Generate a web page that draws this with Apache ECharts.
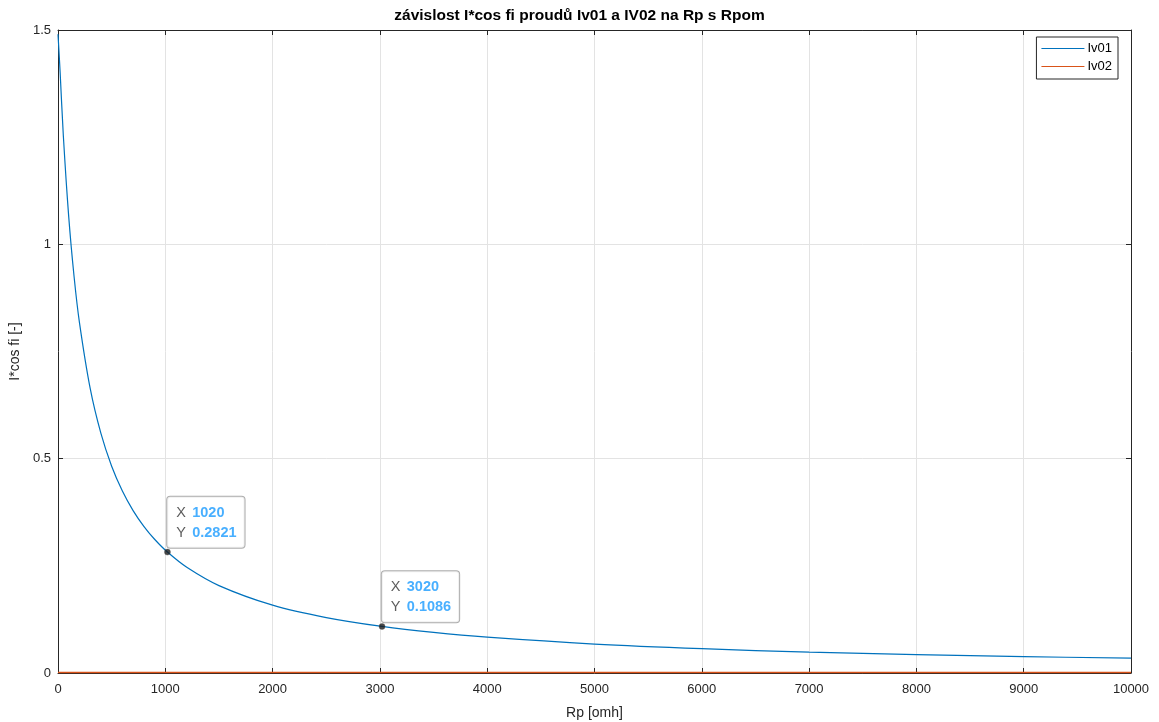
<!DOCTYPE html>
<html>
<head>
<meta charset="utf-8">
<script src="https://cdn.jsdelivr.net/npm/echarts@6/dist/echarts.min.js"></script>
<style>html,body{margin:0;padding:0;background:#fff}#c{width:1159px;height:722px}</style>
</head>
<body>
<div id="c"></div>
<script>
const rpValues = [0, 20, 50, 100, 150, 200, 300, 400, 500, 600, 700, 800, 900, 1020, 1200, 1500, 2000, 2500, 3020, 3500, 4000, 5000, 6000, 7000, 8000, 9000, 10000];
const iv01Values = [1.49, 1.401, 1.252, 1.064, 0.9245, 0.8175, 0.6638, 0.5588, 0.4824, 0.4245, 0.3789, 0.3422, 0.312, 0.2821, 0.2466, 0.2039, 0.1582, 0.1293, 0.1086, 0.0946, 0.0835, 0.0675, 0.0567, 0.0488, 0.0429, 0.0383, 0.0345];
const iv02Values = [0.001, 0.001, 0.001, 0.001, 0.001, 0.001, 0.001, 0.001, 0.001, 0.001, 0.001, 0.001, 0.001, 0.001, 0.001, 0.001, 0.001, 0.001, 0.001, 0.001, 0.001, 0.001, 0.001, 0.001, 0.001, 0.001, 0.001];
const dataTips = [[1020, 0.2821], [3020, 0.1086]];
const xTicks = [0, 1000, 2000, 3000, 4000, 5000, 6000, 7000, 8000, 9000, 10000];
const yTicks = [0, 0.5, 1, 1.5];

const FONT = 'Liberation Sans, Arial, sans-serif';
const chart = echarts.init(document.getElementById('c'), null, {renderer: 'canvas'});
function axisLine() { return {show: true, onZero: false, lineStyle: {color: '#262626', width: 1}}; }
function axisTick() { return {show: true, inside: true, length: 5, lineStyle: {color: '#262626', width: 1}}; }
chart.setOption({
  animation: false,
  backgroundColor: '#fff',
  title: {
    text: 'závislost I*cos fi proudů Iv01 a IV02 na Rp s Rpom',
    left: 'center', top: 3,
    textStyle: {fontFamily: FONT, fontSize: 15.5, fontWeight: 'bold', color: '#000'}
  },
  legend: {
    data: ['Iv01', 'Iv02'],
    orient: 'vertical', right: 41, top: 37,
    backgroundColor: '#fff', borderColor: '#262626', borderWidth: 1, borderRadius: 0,
    padding: [5, 6, 6, 5], itemGap: 5,
    icon: 'rect', itemWidth: 43, itemHeight: 1.2,
    textStyle: {fontFamily: FONT, fontSize: 13, color: '#000', padding: [0, 0, 0, -2]}
  },
  grid: {left: 58, right: 28, top: 30, bottom: 49, containLabel: false, outerBoundsMode: 'none'},
  xAxis: [
    {
      type: 'value', min: 0, max: 10000, interval: 1000, position: 'bottom',
      axisLine: axisLine(), axisTick: axisTick(),
      name: 'Rp [omh]', nameLocation: 'middle', nameGap: 33,
      nameTextStyle: {fontFamily: FONT, fontSize: 14, color: '#262626'},
      axisLabel: {fontFamily: FONT, fontSize: 13, color: '#262626', margin: 10, formatter: v => String(v)},
      splitLine: {show: true, lineStyle: {color: '#e3e3e3', width: 1}}
    },
    {
      type: 'value', min: 0, max: 10000, interval: 1000, position: 'top',
      axisLine: axisLine(), axisTick: axisTick(),
      axisLabel: {show: false}, splitLine: {show: false}
    }
  ],
  yAxis: [
    {
      type: 'value', min: 0, max: 1.5, interval: 0.5, position: 'left',
      axisLine: axisLine(), axisTick: axisTick(),
      name: 'I*cos fi [-]', nameLocation: 'middle', nameGap: 32, nameRotate: 90,
      nameTextStyle: {fontFamily: FONT, fontSize: 14, color: '#262626'},
      axisLabel: {fontFamily: FONT, fontSize: 13, color: '#262626', margin: 7, formatter: v => String(v)},
      splitLine: {show: true, lineStyle: {color: '#e3e3e3', width: 1}}
    },
    {
      type: 'value', min: 0, max: 1.5, interval: 0.5, position: 'right',
      axisLine: axisLine(), axisTick: axisTick(),
      axisLabel: {show: false}, splitLine: {show: false}
    }
  ],
  series: [
    {
      name: 'Iv01', type: 'line', xAxisIndex: 0, yAxisIndex: 0,
      data: rpValues.map((x, i) => [x, iv01Values[i]]),
      smooth: 0.35, showSymbol: false, symbol: 'none',
      lineStyle: {color: '#0072BD', width: 1.2}, itemStyle: {color: '#0072BD'}, z: 4
    },
    {
      name: 'Iv02', type: 'line', xAxisIndex: 0, yAxisIndex: 0,
      data: rpValues.map((x, i) => [x, iv02Values[i]]),
      showSymbol: false, symbol: 'none',
      lineStyle: {color: '#D95319', width: 1.5}, itemStyle: {color: '#D95319'}, z: 3
    },
    {
      name: 'tips', type: 'scatter', xAxisIndex: 0, yAxisIndex: 0,
      data: dataTips, symbolSize: 6,
      itemStyle: {color: '#1a1a1a', borderColor: '#555', borderWidth: 0.5}, z: 5,
      label: {
        show: true, position: [3, -52],
        formatter: p => '{k|X}{v|' + p.value[0] + '}\n{k|Y}{v|' + p.value[1] + '}',
        backgroundColor: '#fff', borderColor: '#999', borderWidth: 1, borderRadius: 3,
        padding: [6, 8, 5, 9],
        rich: {
          k: {fontFamily: FONT, fontSize: 14.5, color: '#333', lineHeight: 20, width: 16},
          v: {fontFamily: FONT, fontSize: 14.5, color: '#1a9bff', fontWeight: 'bold', lineHeight: 20}
        }
      }
    }
  ]
});
</script>
</body>
</html>
